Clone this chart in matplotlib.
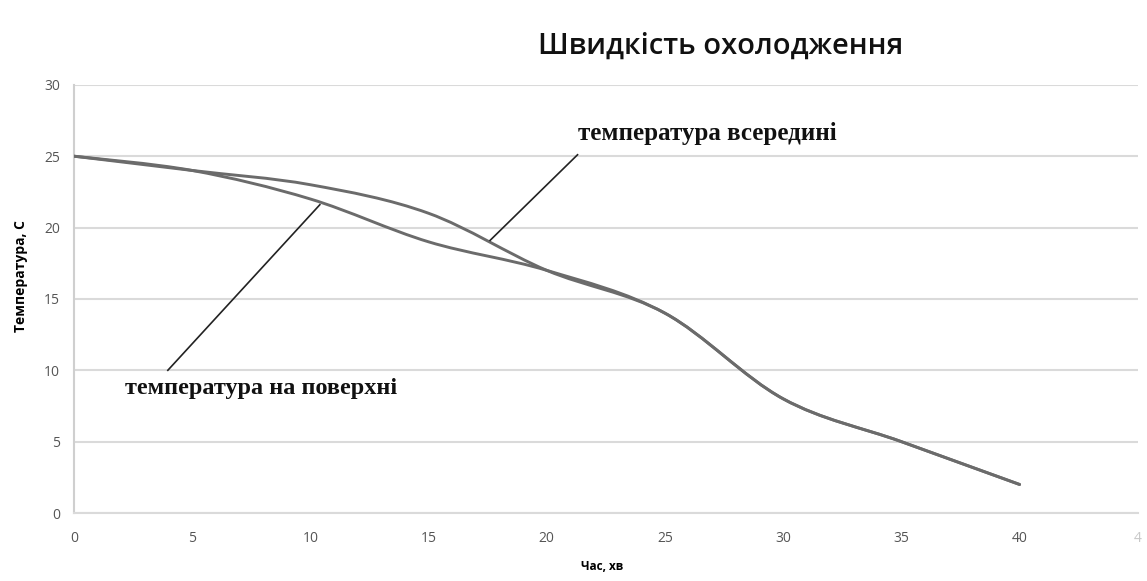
import matplotlib
matplotlib.use("Agg")
import matplotlib.pyplot as plt
from matplotlib.path import Path
from matplotlib.patches import PathPatch

# Дані: час (хв) і температура (°C)
chas = [0, 5, 10, 15, 20, 25, 30, 35, 40]
temp_vseredyni = [25, 24, 23, 21, 17, 14, 8, 5, 2]
temp_poverkhni = [25, 24, 22, 19, 17, 14, 8, 5, 2]

x_ticks = [0, 5, 10, 15, 20, 25, 30, 35, 40, 45]
x_tick_labels = ["0", "5", "10", "15", "20", "25", "30", "35", "40", "4"]
y_ticks = [0, 5, 10, 15, 20, 25, 30]


def zgladzhena_liniya(xs, ys):
    # згладжена лінія як у Excel: кубічні Безьє через точки
    n = len(xs)
    verts = [(xs[0], ys[0])]
    codes = [Path.MOVETO]
    for i in range(n - 1):
        x0, y0 = xs[max(i - 1, 0)], ys[max(i - 1, 0)]
        x1, y1 = xs[i], ys[i]
        x2, y2 = xs[i + 1], ys[i + 1]
        x3, y3 = xs[min(i + 2, n - 1)], ys[min(i + 2, n - 1)]
        c1 = (x1 + (x2 - x0) / 6, y1 + (y2 - y0) / 6)
        c2 = (x2 - (x3 - x1) / 6, y2 - (y3 - y1) / 6)
        verts += [c1, c2, (x2, y2)]
        codes += [Path.CURVE4] * 3
    return Path(verts, codes)


fig = plt.figure(figsize=(11.47, 5.81), dpi=100)
ax = fig.add_axes([0.0645, 0.117, 0.9275, 0.737])

ax.set_xlim(0, 45)
ax.set_ylim(0, 30)

for ys in (temp_poverkhni, temp_vseredyni):
    ax.add_patch(PathPatch(zgladzhena_liniya(chas, ys), facecolor="none",
                           edgecolor="#6b6b6b", linewidth=2.1, zorder=3,
                           capstyle="round"))

ax.set_yticks(y_ticks)
ax.set_xticks(x_ticks)
ax.set_xticklabels(x_tick_labels)
ax.tick_params(length=0, labelsize=10, labelcolor="#555555")
ax.tick_params(axis="x", pad=13)
ax.tick_params(axis="y", pad=10)
for lbl in ax.get_xticklabels() + ax.get_yticklabels():
    lbl.set_fontfamily("Open Sans")
ax.get_xticklabels()[-1].set_color("#c8c8c8")

ax.grid(axis="y", color="#dadada", linewidth=1.5)
ax.set_axisbelow(True)
for side in ["top", "right"]:
    ax.spines[side].set_visible(False)
ax.spines["left"].set_color("#cfcfcf")
ax.spines["left"].set_linewidth(1.5)
ax.spines["bottom"].set_color("#dadada")
ax.spines["bottom"].set_linewidth(1.5)

# Підписи кривих з лініями-виносками
ax.plot([21.3, 17.6], [25.1, 19.1], color="#222222", linewidth=1.2, zorder=4)
ax.text(21.3, 26.6, "температура всередині", fontsize=18, fontweight="bold",
        fontfamily="Liberation Serif", va="center", ha="left", color="#111111")

ax.plot([3.97, 10.4], [10.0, 21.6], color="#222222", linewidth=1.2, zorder=4)
ax.text(2.16, 8.7, "температура на поверхні", fontsize=17.5, fontweight="bold",
        fontfamily="Liberation Serif", va="center", ha="left", color="#111111")

fig.text(0.628, 0.92, "Швидкість охолодження", fontsize=21,
         fontfamily="Open Sans", fontweight="semibold", ha="center", va="center",
         color="#111111")

fig.text(0.018, 0.525, "Температура, С", rotation=90, fontsize=10,
         fontweight="bold", fontfamily="Open Sans", ha="center", va="center")
fig.text(0.525, 0.025, "Час, хв", fontsize=8.5, fontweight="bold",
         fontfamily="Open Sans", ha="center", va="center")

fig.savefig("out.png", dpi=100, facecolor="white")
